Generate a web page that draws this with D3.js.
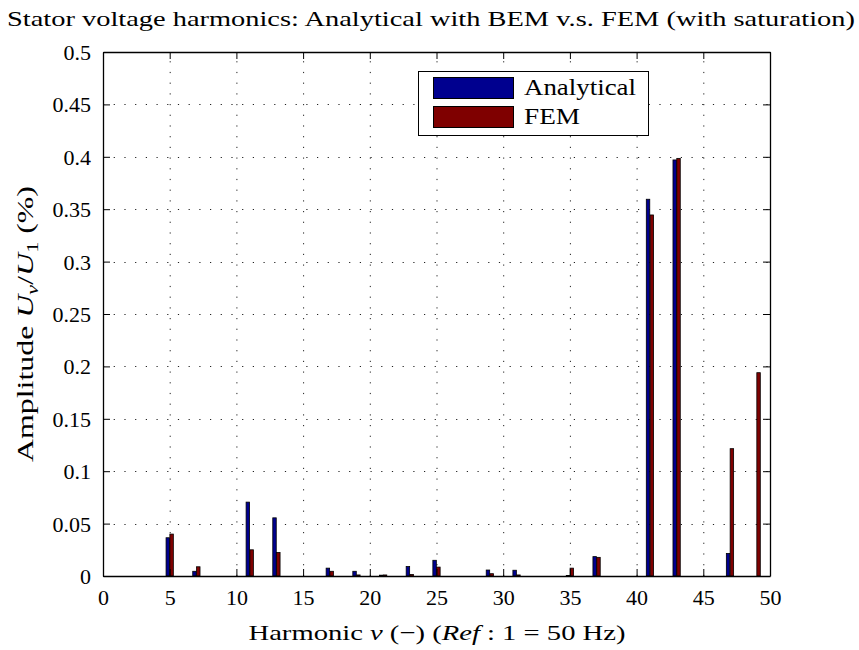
<!DOCTYPE html>
<html><head><meta charset="utf-8">
<script src="https://cdn.jsdelivr.net/npm/d3@7"></script>
<style>
body{margin:0;background:#fff;}
text{font-family:"Liberation Serif","DejaVu Serif",serif;fill:#000;}
</style></head>
<body><svg id="chart" width="859" height="650"></svg>
<script>
// Data (odd harmonics)
const harmonics = [3,5,7,9,11,13,15,17,19,21,23,25,27,29,31,33,35,37,39,41,43,45,47,49];
const analytical = [0,0.0365,0.0045,0,0.0705,0.0555,0,0.0075,0.0045,0.0008,0.0090,0.0150,0,0.0057,0.0055,0,0.0005,0.0185,0,0.3595,0.3970,0,0.0215,0];
const fem        = [0,0.0400,0.0088,0,0.0250,0.0225,0,0.0045,0.0010,0.0010,0.0015,0.0085,0,0.0022,0.0010,0,0.0075,0.0178,0,0.3445,0.3985,0,0.1215,0.1940];
const seriesNames = ["Analytical","FEM"];
const seriesColors = ["#00008f","#7f0000"];
const xTicks = [0,5,10,15,20,25,30,35,40,45,50];
const yTicks = [0,0.05,0.1,0.15,0.2,0.25,0.3,0.35,0.4,0.45,0.5];

const svg = d3.select("#chart");
const L=103, R=770, T=52, B=576;
const x = d3.scaleLinear().domain([0,50]).range([L,R]);
const y = d3.scaleLinear().domain([0,0.5]).range([B,T]);

// grid
const g = svg.append("g");
g.selectAll("line.vg").data(xTicks.slice(1,-1)).join("line")
  .attr("x1",d=>x(d)+0.5).attr("x2",d=>x(d)+0.5).attr("y1",B).attr("y2",T)
  .attr("stroke","#222").attr("stroke-width",1).attr("stroke-dasharray","1.2,9.5");
g.selectAll("line.hg").data(yTicks.slice(1,-1)).join("line")
  .attr("y1",d=>Math.round(y(d))+0.5).attr("y2",d=>Math.round(y(d))+0.5).attr("x1",L).attr("x2",R)
  .attr("stroke","#222").attr("stroke-width",1).attr("stroke-dasharray","1.2,9.5");

// bars
const off = 0.143, bw = 0.26;
[analytical, fem].forEach((vals,si)=>{
  svg.append("g").selectAll("rect").data(harmonics.map((h,i)=>({h,v:vals[i]})).filter(d=>d.v>0)).join("rect")
    .attr("x",d=>x(d.h + (si===0?-off:off) - bw/2))
    .attr("width",x(bw)-x(0))
    .attr("y",d=>y(d.v))
    .attr("height",d=>y(0)-y(d.v))
    .attr("fill",seriesColors[si]).attr("stroke","#000").attr("stroke-width",0.8);
});

// axes box & ticks
const tl = 7;
const axB = svg.append("g").attr("transform",`translate(0,${B})`).call(d3.axisBottom(x).tickValues(xTicks).tickSizeInner(-tl).tickSizeOuter(0).tickPadding(13));
const axT = svg.append("g").attr("transform",`translate(0,${T})`).call(d3.axisTop(x).tickValues(xTicks).tickSizeInner(-tl).tickSizeOuter(0).tickFormat(""));
const axL = svg.append("g").attr("transform",`translate(${L},0)`).call(d3.axisLeft(y).tickValues(yTicks).tickSizeInner(-tl).tickSizeOuter(0).tickPadding(12).tickFormat(d=>d===0?"0":d3.format("")(+d.toFixed(2))));
const axR = svg.append("g").attr("transform",`translate(${R},0)`).call(d3.axisRight(y).tickValues(yTicks).tickSizeInner(-tl).tickSizeOuter(0).tickFormat(""));
[axB,axT,axL,axR].forEach(a=>{a.selectAll("path").attr("stroke","#000").attr("stroke-width",1.3);a.selectAll("line").attr("stroke","#000");a.selectAll("text").style("font-size","22px").attr("font-family","Liberation Serif, serif");});
axL.selectAll("text").attr("dy","0.34em");

// title
svg.append("text").attr("x",431).attr("y",26).attr("text-anchor","middle")
  .style("font-size","21px").attr("textLength",848).attr("lengthAdjust","spacingAndGlyphs")
  .text("Stator voltage harmonics: Analytical with BEM v.s. FEM (with saturation)");

// x label
const xl = svg.append("text").attr("x",437).attr("y",640).attr("text-anchor","middle").style("font-size","22px")
  .attr("textLength",377).attr("lengthAdjust","spacingAndGlyphs");
xl.append("tspan").text("Harmonic ");
xl.append("tspan").attr("font-style","italic").text("ν");
xl.append("tspan").text(" (−) (");
xl.append("tspan").attr("font-style","italic").text("Ref");
xl.append("tspan").text(" : 1 = 50 Hz)");

// y label
const yl = svg.append("text").attr("transform","translate(33,324) rotate(-90)").attr("text-anchor","middle").style("font-size","23px")
  .attr("textLength",276).attr("lengthAdjust","spacingAndGlyphs");
yl.append("tspan").text("Amplitude ");
yl.append("tspan").attr("font-style","italic").text("U");
yl.append("tspan").attr("font-style","italic").attr("dy",5).style("font-size","16px").text("ν");
yl.append("tspan").attr("dy",-5).text("/");
yl.append("tspan").attr("font-style","italic").text("U");
yl.append("tspan").attr("dy",5).style("font-size","16px").text("1");
yl.append("tspan").attr("dy",-5).text(" (%)");

// legend
const lg = svg.append("g");
lg.append("rect").attr("x",418.5).attr("y",71.5).attr("width",230).attr("height",64).attr("fill","#fff").attr("stroke","#000").attr("stroke-width",1);
seriesNames.forEach((n,i)=>{
  lg.append("rect").attr("x",433.5).attr("y",77.5+i*29).attr("width",80).attr("height",21).attr("fill",seriesColors[i]).attr("stroke","#000").attr("stroke-width",1);
  lg.append("text").attr("x",524).attr("y",95+i*29).style("font-size","23px")
    .attr("textLength",i===0?112:56).attr("lengthAdjust","spacingAndGlyphs").text(n);
});
</script></body></html>
